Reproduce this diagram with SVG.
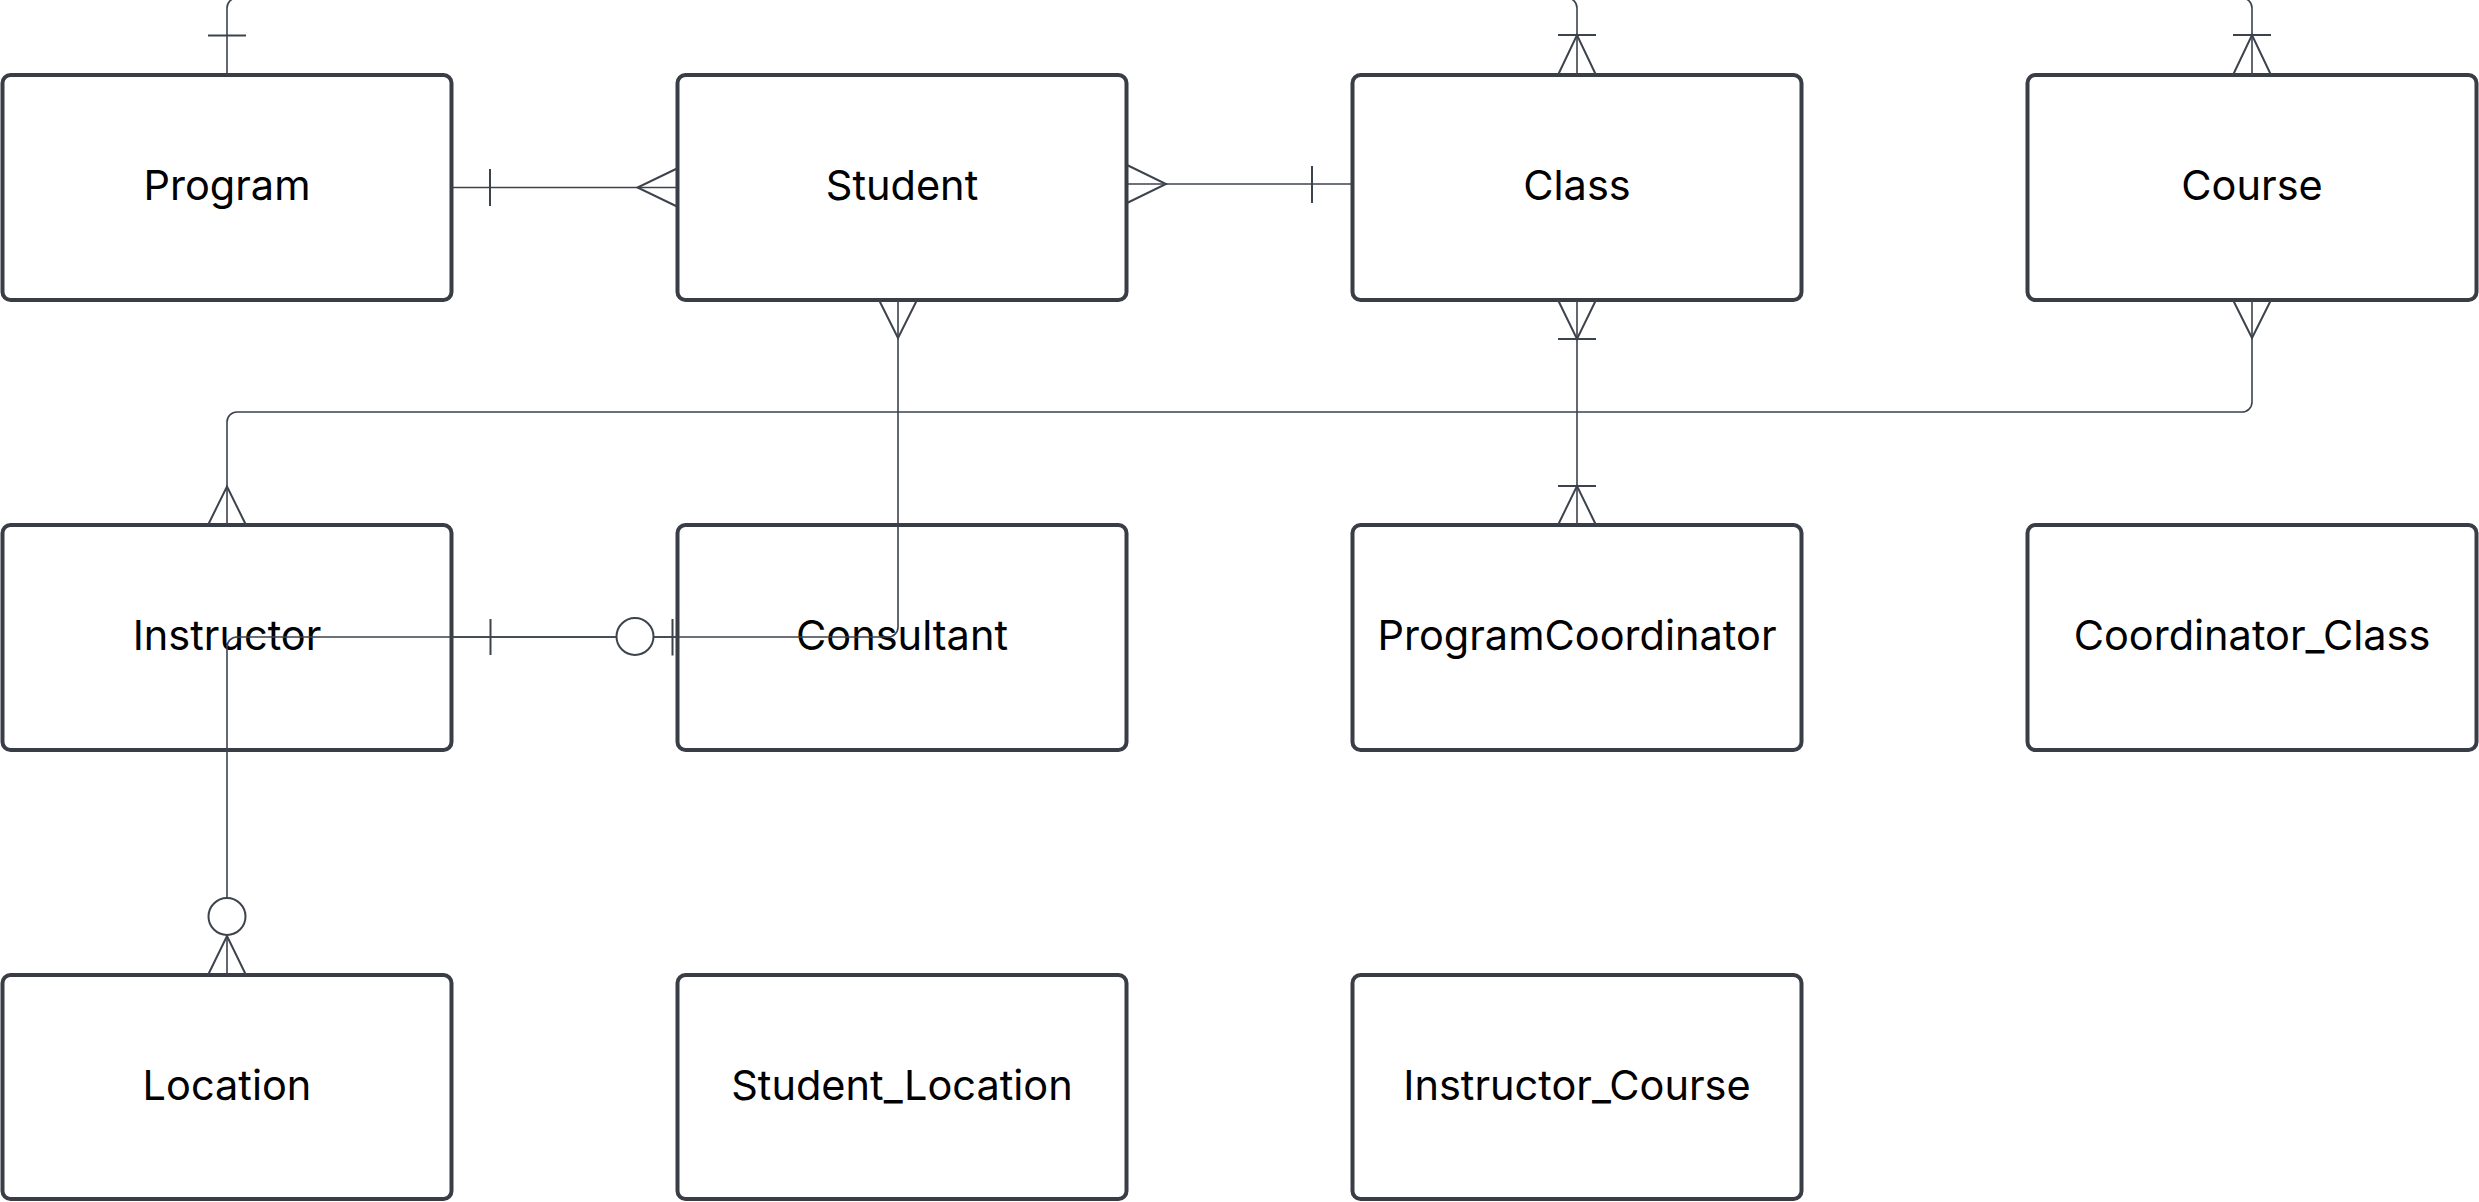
<svg xmlns="http://www.w3.org/2000/svg" width="2479" height="1202" viewBox="0 0 2479 1202">
<style>
.box{fill:#ffffff;stroke:#383d46;stroke-width:4}
.lbl{font-family:Inter,"Noto Sans","Liberation Sans",sans-serif;font-size:41.5px;fill:#000000;text-anchor:middle}
.ln{fill:none;stroke:#3d434d;stroke-width:1.6}
.mk{fill:none;stroke:#3d434d;stroke-width:2}
.zero{fill:#ffffff;stroke:#3d434d;stroke-width:2}
</style>
<rect width="2479" height="1202" fill="#ffffff"/>
<g id="nodes">
<g id="Program"><rect class="box" x="2.5" y="75" width="449" height="225" rx="8"/><text class="lbl" x="227" y="199.5">Program</text></g>
<g id="Student"><rect class="box" x="677.5" y="75" width="449" height="225" rx="8"/><text class="lbl" x="902" y="199.5">Student</text></g>
<g id="Class"><rect class="box" x="1352.5" y="75" width="449" height="225" rx="8"/><text class="lbl" x="1577" y="199.5">Class</text></g>
<g id="Course"><rect class="box" x="2027.5" y="75" width="449" height="225" rx="8"/><text class="lbl" x="2252" y="199.5">Course</text></g>
<g id="Instructor"><rect class="box" x="2.5" y="525" width="449" height="225" rx="8"/><text class="lbl" x="227" y="649.5">Instructor</text></g>
<g id="Consultant"><rect class="box" x="677.5" y="525" width="449" height="225" rx="8"/><text class="lbl" x="902" y="649.5">Consultant</text></g>
<g id="ProgramCoordinator"><rect class="box" x="1352.5" y="525" width="449" height="225" rx="8"/><text class="lbl" x="1577" y="649.5">ProgramCoordinator</text></g>
<g id="Coordinator_Class"><rect class="box" x="2027.5" y="525" width="449" height="225" rx="8"/><text class="lbl" x="2252" y="649.5">Coordinator_Class</text></g>
<g id="Location"><rect class="box" x="2.5" y="975" width="449" height="224" rx="8"/><text class="lbl" x="227" y="1099.5">Location</text></g>
<g id="Student_Location"><rect class="box" x="677.5" y="975" width="449" height="224" rx="8"/><text class="lbl" x="902" y="1099.5">Student_Location</text></g>
<g id="Instructor_Course"><rect class="box" x="1352.5" y="975" width="449" height="224" rx="8"/><text class="lbl" x="1577" y="1099.5">Instructor_Course</text></g>
</g>
<g id="connectors">
<!-- Program top -->
<path class="ln" d="M227 75 V8 A10 10 0 0 1 237 -2 H400"/>
<path class="mk" d="M208 35.5 H246"/>
<!-- Class top -->
<path class="ln" d="M1577 75 V8 A10 10 0 0 0 1567 -2 H1400"/>
<path class="mk" d="M1558 35 H1596 M1558 75 L1577 35 L1596 75"/>
<!-- Course top -->
<path class="ln" d="M2252 75 V8 A10 10 0 0 0 2242 -2 H2100"/>
<path class="mk" d="M2233 35 H2271 M2233 75 L2252 35 L2271 75"/>
<!-- Program - Student -->
<path class="ln" d="M451.5 187.5 H677"/>
<path class="mk" d="M490 169 V206 M677 168.5 L637.5 187.5 L677 206.5"/>
<!-- Student - Class -->
<path class="ln" d="M1127 184 H1352"/>
<path class="mk" d="M1127 165 L1166 184 L1127 203 M1312 166 V203"/>
<!-- Class - ProgramCoordinator -->
<path class="ln" d="M1577 300 V525"/>
<path class="mk" d="M1558 300 L1577 339 L1596 300 M1558 339 H1596 M1558 525 L1577 486 L1596 525 M1558 486 H1596"/>
<!-- Course - Instructor -->
<path class="ln" d="M2252 300 V402 A10 10 0 0 1 2242 412 H237 A10 10 0 0 0 227 422 V525"/>
<path class="mk" d="M2233 300 L2252 338 L2271 300 M208 525 L227 486.5 L246 525"/>
<!-- Student - Location -->
<path class="ln" d="M898 300 V627 A10 10 0 0 1 888 637 H237 A10 10 0 0 0 227 647 V975"/>
<path class="mk" d="M879 300 L898 338 L917 300 M208 975 L227 936 L246 975"/>
<circle class="zero" cx="227" cy="916.5" r="18.5"/>
<!-- Instructor - Consultant -->
<path class="ln" d="M451.5 637 H677"/>
<path class="mk" d="M490.5 619 V655 M672.5 619 V655.5"/>
<circle class="zero" cx="635" cy="636.5" r="18.5"/>
</g>
</svg>
